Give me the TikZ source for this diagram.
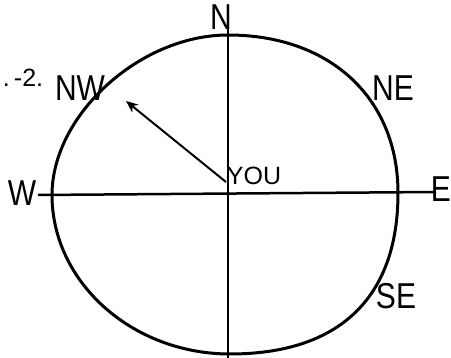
\documentclass[tikz,border=0pt]{standalone}
\usepackage{fontspec}
\setsansfont{Liberation Sans}
\usetikzlibrary{arrows.meta}
\begin{document}
\begin{tikzpicture}[x=1pt,y=-1pt,
  big/.style={inner sep=0pt, font=\sffamily\fontsize{30}{30}\selectfont, yscale=1.2},
  small/.style={inner sep=0pt, font=\sffamily\fontsize{25}{25}\selectfont},
  ring/.style={line width=3pt, black},
  axis/.style={line width=2.5pt, black},
  pointer/.style={line width=2pt, -{Stealth[length=12pt,width=10pt]}}]
\useasboundingbox (0,0) rectangle (451,358);
% key points of the hand-drawn circle
\coordinate (Wp) at (52,195);
\coordinate (Np) at (228,35);
\coordinate (Ep) at (398,193);
\coordinate (Sp) at (230,354);
\coordinate (C) at (226,182);
% axis ends
\coordinate (Wend) at (38,195);
\coordinate (Eend) at (436,192);
\coordinate (Ntop) at (228,14);
\coordinate (Sbot) at (228,358);
\coordinate (tip) at (126,101);
% circle
\draw[ring] (Np) .. controls (330,35) and (398,98) .. (Ep)
  .. controls (398,298) and (339,354) .. (Sp)
  .. controls (132,354) and (52,282) .. (Wp)
  .. controls (52,115) and (140,35) .. (Np);
% axes
\draw[axis] (Wend) -- (Eend);
\draw[axis] (Ntop) -- (Sbot);
% arrow
\draw[pointer] (C) -- (tip);
% labels
\node[big] (n) at (221,17) {N};
\node[big] (nw) at (80,88) {NW};
\node[big] (ne) at (393,88) {NE};
\node[big] (w) at (22,193) {W};
\node[big, anchor=east] (e) at (451,189) {E};
\node[big] (se) at (396,296) {SE};
\node[small] (you) at (254,176) {YOU};
\node[small] (fig) at (23,78) {.\,-2.};
\end{tikzpicture}
\end{document}
